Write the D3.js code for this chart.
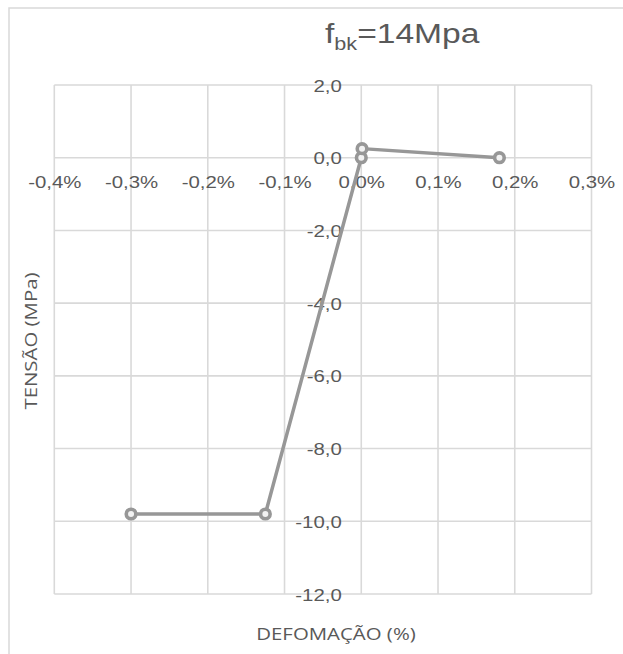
<!DOCTYPE html>
<html>
<head>
<meta charset="utf-8">
<script src="https://cdn.jsdelivr.net/npm/d3@7/dist/d3.min.js"></script>
<style>
  html, body { margin: 0; padding: 0; background: #fff; }
  svg { display: block; }
</style>
</head>
<body>
<script>
// Stress–strain curve for masonry, f_bk = 14 MPa
const strain = [-0.3, -0.125, 0.0, 0.001, 0.18];   // %
const stress = [-9.8, -9.8, 0.0, 0.25, 0.0];        // MPa
const xTicks = [-0.4, -0.3, -0.2, -0.1, 0.0, 0.1, 0.2, 0.3];
const yTicks = [2, 0, -2, -4, -6, -8, -10, -12];
const titleMain = "f";
const titleSub = "bk";
const titleRest = "=14Mpa";
const xTitle = "DEFOMAÇÃO (%)";
const yTitle = "TENSÃO (MPa)";

const W = 623, H = 654;
const plot = { left: 54.3, right: 591.5, top: 85, bottom: 594 };
const gridColor = "#d9d9d9";
const textColor = "#595959";
const lineColor = "#979797";
const sx = 1.2; // horizontal text stretch

const svg = d3.select("body").append("svg")
  .attr("width", W).attr("height", H);

// chart frame
svg.append("rect")
  .attr("x", 9).attr("y", 8)
  .attr("width", W + 20).attr("height", H + 20)
  .attr("fill", "none").attr("stroke", gridColor).attr("stroke-width", 1.5);

const x = d3.scaleLinear().domain([-0.4, 0.3]).range([plot.left, plot.right]);
const y = d3.scaleLinear().domain([-12, 2]).range([plot.bottom, plot.top]);

// gridlines
const grid = svg.append("g").attr("stroke", gridColor).attr("stroke-width", 1.6);
grid.selectAll("line.v").data(xTicks).join("line").attr("class", "v")
  .attr("x1", d => x(d)).attr("x2", d => x(d))
  .attr("y1", plot.top).attr("y2", plot.bottom);
grid.selectAll("line.h").data(yTicks).join("line").attr("class", "h")
  .attr("y1", d => y(d)).attr("y2", d => y(d))
  .attr("x1", plot.left).attr("x2", plot.right);

const fmt = v => (Math.abs(v) < 1e-9 ? 0 : v).toFixed(1).replace(".", ",");

// x axis labels (axis crosses at stress = 0)
const xAxis = svg.append("g")
  .attr("transform", `translate(0,${y(0)})`)
  .call(d3.axisBottom(x).tickValues(xTicks).tickSize(0).tickFormat(d => fmt(d) + "%"));
xAxis.select(".domain").remove();
xAxis.selectAll("text")
  .attr("y", null).attr("dy", null)
  .attr("text-anchor", "middle")
  .attr("transform", `translate(0,${188 - y(0)}) scale(${sx},1)`)
  .attr("fill", textColor)
  .style("font-family", "'Liberation Sans', Arial, sans-serif")
  .style("font-size", "17px");

// y axis labels (axis crosses at strain = 0)
const yAxis = svg.append("g")
  .attr("transform", `translate(${x(0)},0)`)
  .call(d3.axisLeft(y).tickValues(yTicks).tickSize(0).tickFormat(fmt));
yAxis.select(".domain").remove();
yAxis.selectAll("text")
  .attr("x", null).attr("dy", "0.36em")
  .attr("text-anchor", "end")
  .attr("transform", `translate(-19.5,0) scale(${sx},1)`)
  .attr("fill", textColor)
  .style("font-family", "'Liberation Sans', Arial, sans-serif")
  .style("font-size", "17px");

// data line
const pts = strain.map((s, i) => [s, stress[i]]);
svg.append("path")
  .datum(pts)
  .attr("fill", "none")
  .attr("stroke", lineColor)
  .attr("stroke-width", 3.5)
  .attr("stroke-linejoin", "round")
  .attr("d", d3.line().x(d => x(d[0])).y(d => y(d[1])));

svg.append("g").selectAll("circle").data(pts).join("circle")
  .attr("cx", d => x(d[0])).attr("cy", d => y(d[1]))
  .attr("r", 4.8)
  .attr("fill", "#f2f2f2")
  .attr("stroke", lineColor)
  .attr("stroke-width", 3.6);

// title
const title = svg.append("text")
  .attr("transform", `translate(325,43) scale(${sx},1)`)
  .attr("fill", textColor)
  .style("font-family", "'Liberation Sans', Arial, sans-serif")
  .style("font-size", "28px");
title.append("tspan").text(titleMain);
title.append("tspan").attr("dy", 7).style("font-size", "18px").text(titleSub);
title.append("tspan").attr("dy", -7).text(titleRest);

// axis titles
svg.append("text")
  .attr("transform", `translate(336,640) scale(${sx},1)`)
  .attr("text-anchor", "middle")
  .attr("fill", textColor)
  .style("font-family", "'Open Sans', sans-serif")
  .style("font-size", "17px")
  .text(xTitle);

svg.append("text")
  .attr("transform", `translate(37,341) rotate(-90) scale(${sx},1)`)
  .attr("text-anchor", "middle")
  .attr("fill", textColor)
  .style("font-family", "'Open Sans', sans-serif")
  .style("font-size", "17px")
  .text(yTitle);
</script>
</body>
</html>
